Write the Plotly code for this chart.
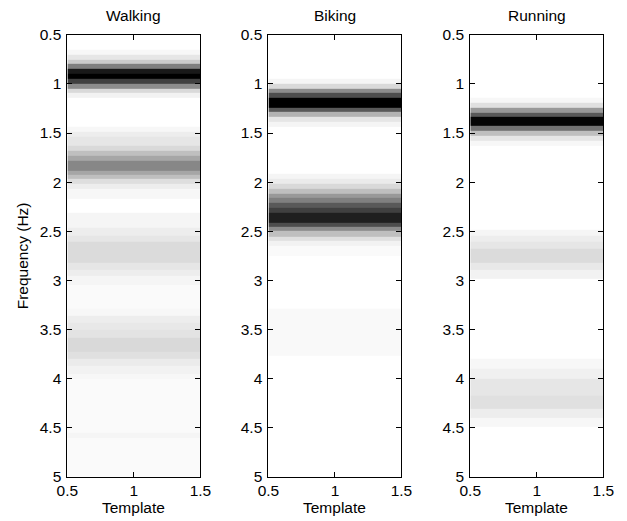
import plotly.graph_objects as go

titles = ["Walking", "Biking", "Running"]

# Frequency band edges (Hz) and darkness level (0 = white, 1 = black) per band
walking_edges = [0.5, 0.65, 0.70, 0.75, 0.80, 0.85, 0.90, 0.95, 1.00, 1.05, 1.09, 1.14,
                 1.44, 1.49, 1.535, 1.63, 1.68, 1.73, 1.78, 1.885, 1.93, 1.97, 2.02, 2.07, 2.17,
                 2.31, 2.46, 2.55, 2.61, 2.82, 2.89, 2.95, 3.04,
                 3.29, 3.36, 3.43, 3.50, 3.58, 3.73, 3.80, 3.87, 3.955, 4.006, 4.55, 4.60, 5.0]
walking_level = [0.0, 0.03, 0.10, 0.20, 0.50, 0.90, 1.00, 0.75, 0.45, 0.15, 0.05,
                 0.0, 0.03, 0.07, 0.10, 0.15, 0.25, 0.35, 0.47, 0.35, 0.25, 0.13, 0.07, 0.03,
                 0.0, 0.04, 0.07, 0.10, 0.14, 0.10, 0.07, 0.04,
                 0.02, 0.03, 0.07, 0.09, 0.11, 0.15, 0.12, 0.08, 0.05, 0.03, 0.02, 0.04, 0.02]

biking_edges = [0.5, 0.95, 0.995, 1.046, 1.094, 1.138, 1.24, 1.284, 1.331, 1.386, 1.437,
                1.918, 1.97, 2.02, 2.064, 2.115, 2.163, 2.207, 2.265, 2.316, 2.41, 2.455, 2.50,
                2.553, 2.60, 2.65, 2.75, 3.29, 3.77, 5.0]
biking_level = [0.0, 0.04, 0.15, 0.45, 0.70, 1.00, 0.65, 0.30, 0.10, 0.04,
                0.0, 0.04, 0.08, 0.15, 0.25, 0.40, 0.50, 0.65, 0.75, 0.88, 0.70, 0.45,
                0.25, 0.12, 0.05, 0.02, 0.0, 0.025, 0.0]

running_edges = [0.5, 1.138, 1.19, 1.246, 1.29, 1.331, 1.427, 1.478, 1.528, 1.579, 1.63,
                 2.48, 2.55, 2.61, 2.68, 2.82, 2.89, 2.98,
                 3.80, 3.90, 4.00, 4.17, 4.31, 4.40, 4.49, 5.0]
running_level = [0.0, 0.03, 0.12, 0.40, 0.65, 0.98, 0.55, 0.25, 0.10, 0.03,
                 0.0, 0.04, 0.07, 0.10, 0.14, 0.09, 0.05,
                 0.0, 0.03, 0.06, 0.10, 0.12, 0.07, 0.03, 0.0]

template_edges = [0.5, 1.5]
y_ticks = [0.5, 1, 1.5, 2, 2.5, 3, 3.5, 4, 4.5, 5]
y_ticktext = ["0.5", "1", "1.5", "2", "2.5", "3", "3.5", "4", "4.5", "5"]
x_ticks = [0.5, 1, 1.5]
x_ticktext = ["0.5", "1", "1.5"]

W, H = 627, 521
SX, SY, PAD = 627 / 648, 521 / 542, 10.5


def px(v):
    # target picture x -> page x
    return v / SX - PAD


def py(v):
    return v / SY - PAD


lefts = [px(66.7), px(268.3), px(470.7)]
pw = 133.4 / SX
top, bottom = py(35.7), py(475.0)

panels = [(walking_edges, walking_level), (biking_edges, biking_level), (running_edges, running_level)]

FONT = "Arial, Liberation Sans, sans-serif"
FS = 15.5
fig = go.Figure()
layout = dict(width=W, height=H, margin=dict(l=0, r=0, t=0, b=0),
              paper_bgcolor="white", plot_bgcolor="white", showlegend=False,
              font=dict(family=FONT, size=FS, color="black"))
annotations = []
for i, (edges, level) in enumerate(panels):
    n = "" if i == 0 else str(i + 1)
    fig.add_trace(go.Heatmap(
        x=template_edges, y=edges, z=[[v] for v in level],
        zmin=0, zmax=1, colorscale=[[0, "#ffffff"], [1, "#000000"]],
        showscale=False, zsmooth=False, hoverinfo="skip",
        xaxis="x" + n, yaxis="y" + n))
    x0 = lefts[i] / W
    x1 = (lefts[i] + pw) / W
    layout["xaxis" + n] = dict(domain=[x0, x1], range=[0.5, 1.5], tickvals=x_ticks, ticktext=x_ticktext,
                               ticks="inside", ticklen=5, tickcolor="black", tickwidth=1,
                               showline=True, linecolor="black", linewidth=1, mirror="ticks",
                               showgrid=False, zeroline=False, anchor="y" + n,
                               tickfont=dict(size=FS))
    layout["yaxis" + n] = dict(domain=[1 - bottom / H, 1 - top / H], range=[5, 0.5], tickvals=y_ticks,
                               ticktext=y_ticktext, ticks="inside", ticklen=5, tickcolor="black",
                               tickwidth=1, showline=True, linecolor="black", linewidth=1, mirror="ticks",
                               showgrid=False, zeroline=False, anchor="x" + n,
                               ticklabelstandoff=2, tickfont=dict(size=FS))
    cx = (lefts[i] + pw / 2) / W
    annotations.append(dict(text=titles[i], x=cx, y=1 - 6.5 / H, xref="paper", yref="paper",
                            xanchor="center", yanchor="middle", showarrow=False,
                            font=dict(size=FS)))
    annotations.append(dict(text="Template", x=cx, y=1 - py(505.5) / H, xref="paper", yref="paper",
                            xanchor="center", yanchor="middle", showarrow=False,
                            font=dict(size=FS)))
annotations.append(dict(text="Frequency (Hz)", x=px(22) / W, y=1 - py(255) / H, xref="paper", yref="paper",
                        xanchor="center", yanchor="middle", showarrow=False, textangle=-90,
                        font=dict(size=FS)))
layout["annotations"] = annotations
fig.update_layout(**layout)
fig.write_html("out.html", config={"displayModeBar": False, "staticPlot": True},
               post_script="document.body.style.margin='0px';")
